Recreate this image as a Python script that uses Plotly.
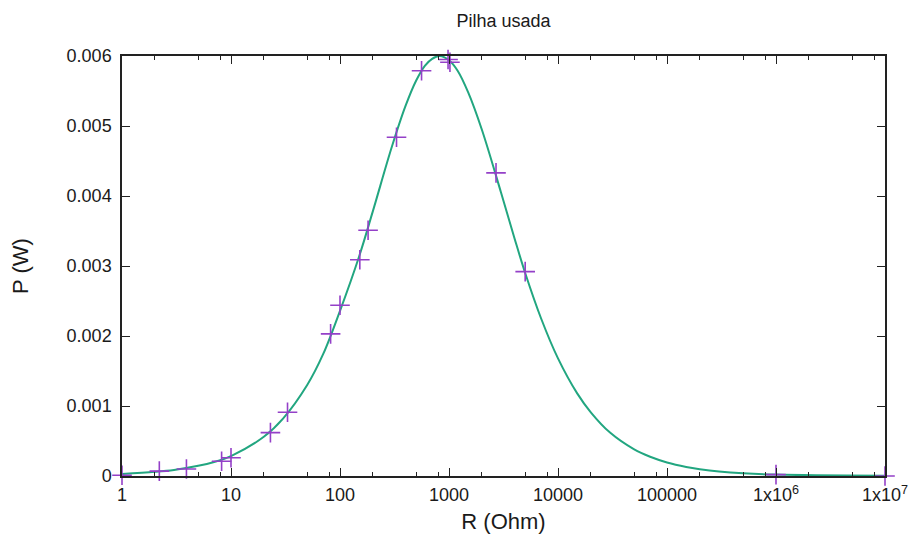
import plotly.graph_objects as go

# Measured data points (R in Ohm, P in W)
data_R = [1, 2.2, 3.9, 8.2, 10, 23, 33, 82, 100, 152, 181, 330, 560, 980, 1020, 2700, 5000, 1e6, 1e7]
data_P = [0.00001, 0.00007, 0.0001, 0.00021, 0.00026, 0.00062, 0.00091, 0.00203, 0.00244,
          0.00309, 0.00351, 0.00484, 0.00579, 0.00595, 0.00591, 0.00433, 0.00292, 0.00002, 0.0]

# Fitted curve at sample resistances
curve_R = [1, 2, 3, 5, 7, 10, 20, 30, 50, 70, 100, 150, 200, 300, 400, 500, 600, 700, 820,
           1000, 1200, 1500, 2000, 3000, 4000, 5000, 7000, 10000, 15000, 20000, 30000, 50000,
           70000, 100000, 150000, 200000, 300000, 500000, 1e6, 1e7]
curve_P = [0.00003, 0.00006, 0.000087, 0.000145, 0.0002, 0.000285, 0.00056, 0.00082, 0.0013,
           0.00174, 0.00236, 0.00314, 0.00378, 0.00471, 0.00529, 0.00565, 0.00586, 0.00596,
           0.006, 0.00594, 0.00579, 0.00548, 0.00495, 0.00405, 0.00339, 0.0029, 0.00225,
           0.00168, 0.00118, 0.00091, 0.00062, 0.00038, 0.000275, 0.000194, 0.00013, 0.000098,
           0.000065, 0.000039, 0.00002, 0.000002]

x_tickvals = [1, 10, 100, 1000, 10000, 100000, 1e6, 1e7]
x_ticktext = ["1", "10", "100", "1000", "10000", "100000", "1x10<sup>6</sup>", "1x10<sup>7</sup>"]
x_minor = [m * 10 ** e for e in range(0, 7) for m in (2, 5, 8)]
y_tickvals = [0, 0.001, 0.002, 0.003, 0.004, 0.005, 0.006]
y_ticktext = ["0", "0.001", "0.002", "0.003", "0.004", "0.005", "0.006"]

FONT = "Liberation Sans, Arial, sans-serif"
PURPLE = "#9440c8"

fig = go.Figure()
fig.add_trace(go.Scatter(
    x=curve_R, y=curve_P, mode="lines", line=dict(color="#22a680", width=2, shape="spline"),
    hoverinfo="skip", showlegend=False))
fig.add_trace(go.Scatter(
    x=data_R, y=data_P, mode="markers", cliponaxis=False,
    marker=dict(symbol="cross-thin-open", size=14, color=PURPLE,
                line=dict(color=PURPLE, width=1.6)),
    showlegend=False))

fig.update_layout(
    width=913, height=534,
    margin=dict(l=122, r=28, t=56, b=58),
    paper_bgcolor="white", plot_bgcolor="white",
    font=dict(family=FONT, size=18, color="#1a1a1a"),
    title=dict(text="Pilha usada", x=0.5515, xanchor="center", y=0.962, yanchor="middle",
               font=dict(size=18)),
)
fig.update_xaxes(
    type="log", range=[0, 7], tickvals=x_tickvals, ticktext=x_ticktext,
    ticks="inside", ticklen=8, tickwidth=1.2, tickcolor="#222",
    minor=dict(tickvals=x_minor, ticks="inside", ticklen=4, tickwidth=1, tickcolor="#222"),
    showline=True, linecolor="#222", linewidth=1.5, mirror="allticks",
    showgrid=False, zeroline=False, ticklabelstandoff=2, automargin=False,
    title=dict(text="R (Ohm)", standoff=12),
)
fig.update_yaxes(
    range=[0, 0.006], tickvals=y_tickvals, ticktext=y_ticktext,
    ticks="inside", ticklen=8, tickwidth=1.2, tickcolor="#222",
    showline=True, linecolor="#222", linewidth=1.5, mirror="allticks",
    showgrid=False, zeroline=False, ticklabelstandoff=5, automargin=False,
    title=dict(text="P (W)", standoff=32),
)

fig.write_html("out.html")
